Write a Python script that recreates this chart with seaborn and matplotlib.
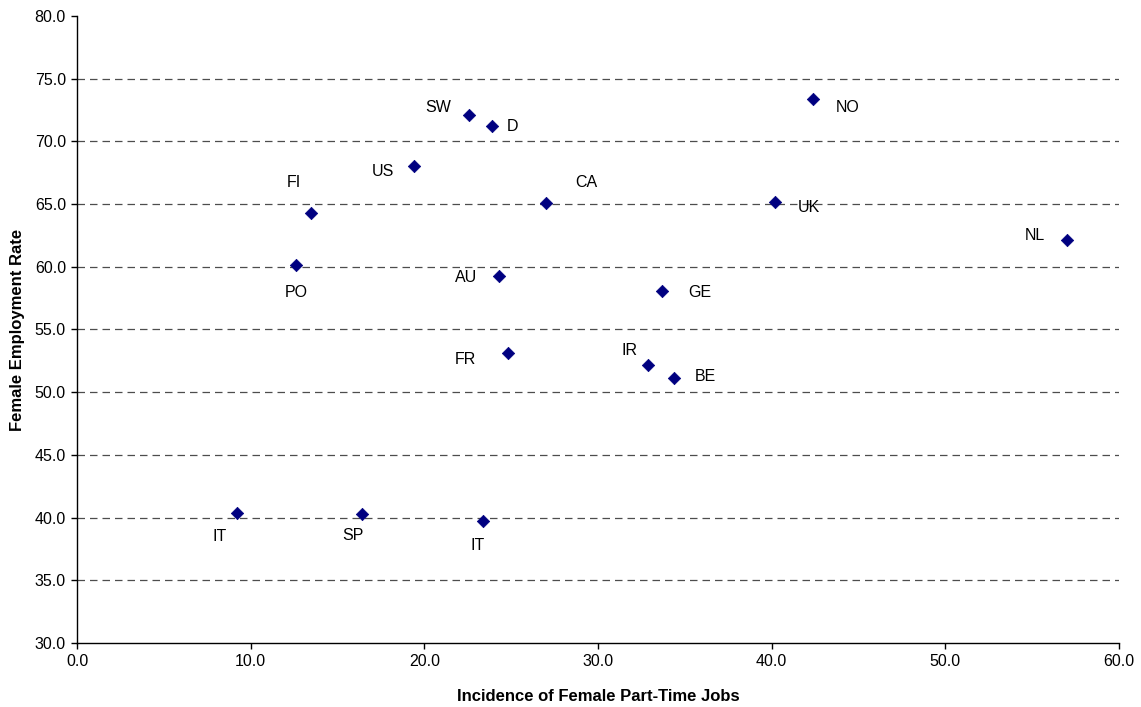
import matplotlib
matplotlib.use('Agg')
import matplotlib.pyplot as plt
import seaborn as sns
import pandas as pd

# data
countries = ['SW', 'D', 'US', 'FI', 'PO', 'CA', 'AU', 'FR', 'GE', 'IR',
             'BE', 'NO', 'UK', 'NL', 'IT', 'SP', 'IT']
part_time = [22.6, 23.9, 19.4, 13.5, 12.6, 27.0, 24.3, 24.8, 33.7, 32.9,
             34.4, 42.4, 40.2, 57.0, 9.2, 16.4, 23.4]
employment = [72.1, 71.2, 68.0, 64.3, 60.1, 65.1, 59.3, 53.1, 58.1, 52.2,
              51.1, 73.4, 65.2, 62.1, 40.4, 40.3, 39.7]

# label offsets (pixels, right / down) relative to each marker
label_dx = [-31, 20, -31, -18, 0, 40, -33, -42, 38, -19, 31, 34, 34, -32, -17, -9, -6]
label_dy = [-7, 0, 5, -30, 27, -20, 2, 6, 2, -14, -2, 9, 6, -5, 24, 22, 24]

df = pd.DataFrame({'country': countries, 'x': part_time, 'y': employment})

sns.set_theme(style='ticks')
plt.rcParams['font.family'] = ['Liberation Sans', 'DejaVu Sans']

fig = plt.figure(figsize=(11.41, 7.07), dpi=100)
ax = fig.add_axes([0.0675, 0.0905, 0.9132, 0.887])

for yv in range(35, 80, 5):
    ax.axhline(yv, color='#4d4d4d', lw=0.9, ls=(0, (6, 4)), zorder=1)

sns.scatterplot(data=df, x='x', y='y', ax=ax, marker='D', s=40,
                color='#000080', edgecolor='#000080', linewidth=0.5, zorder=3)

for i, row in df.iterrows():
    ax.annotate(row['country'], (row['x'], row['y']),
                xytext=(label_dx[i] * 0.72, -label_dy[i] * 0.72),
                textcoords='offset points', ha='center', va='center',
                fontsize=11.5, color='black')

ax.set_xlim(0, 60)
ax.set_ylim(30, 80)
ax.set_xticks(range(0, 61, 10))
ax.set_yticks(range(30, 81, 5))
ax.xaxis.set_major_formatter(matplotlib.ticker.FormatStrFormatter('%.1f'))
ax.yaxis.set_major_formatter(matplotlib.ticker.FormatStrFormatter('%.1f'))
ax.tick_params(axis='both', direction='out', length=4, width=1, color='black',
               labelsize=11.5, labelcolor='black', pad=4)

for side in ['top', 'right']:
    ax.spines[side].set_visible(False)
for side in ['left', 'bottom']:
    ax.spines[side].set_color('black')
    ax.spines[side].set_linewidth(1)

ax.set_xlabel('Incidence of Female Part-Time Jobs', fontsize=12,
              fontweight='bold', color='black', labelpad=14)
ax.set_ylabel('Female Employment Rate', fontsize=12,
              fontweight='bold', color='black', labelpad=7)

fig.savefig('out.png', dpi=100, facecolor='white')
